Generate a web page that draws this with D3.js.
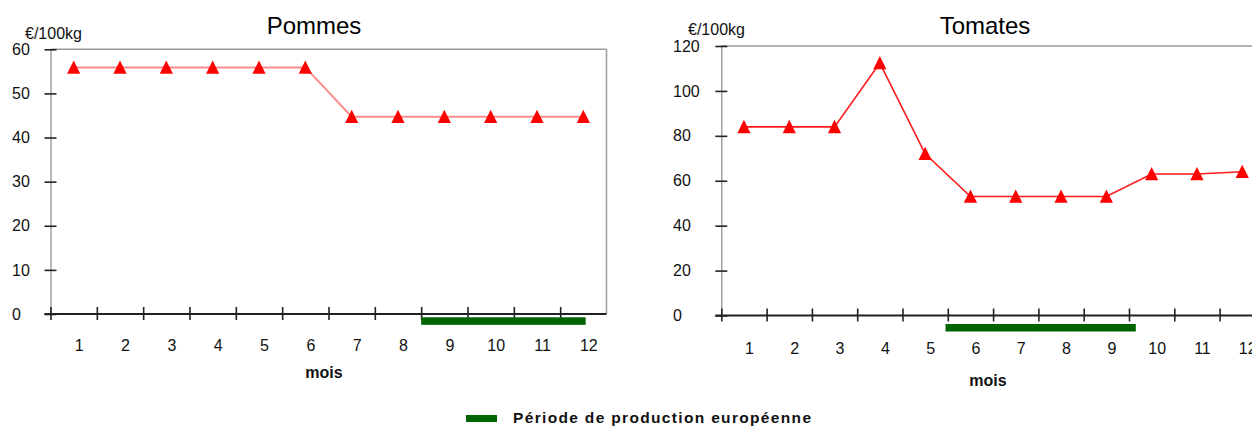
<!DOCTYPE html>
<html>
<head>
<meta charset="utf-8">
<script src="https://cdn.jsdelivr.net/npm/d3@7"></script>
<style>
  html, body { margin: 0; padding: 0; background: #ffffff; }
  svg { display: block; }
</style>
</head>
<body>
<svg id="chart" width="1252" height="427"></svg>
<script>
// Monthly prices (€/100kg) and European production periods
const months = [1, 2, 3, 4, 5, 6, 7, 8, 9, 10, 11, 12];
const pommesPrices = [55.9, 55.9, 55.9, 55.9, 55.9, 55.9, 44.7, 44.7, 44.7, 44.7, 44.7, 44.7];
const tomatesPrices = [84, 84, 84, 112.4, 72, 53, 53, 53, 53, 63, 63, 64];
const pommesTicks = [0, 10, 20, 30, 40, 50, 60];
const tomatesTicks = [0, 20, 40, 60, 80, 100, 120];
const pommesProduction = [8.5, 12.05];
const tomatesProduction = [5.45, 9.65];
const unitLabel = "€/100kg";
const xTitle = "mois";
const legendLabel = "Période de production européenne";

const FONT = "'Liberation Sans', Arial, sans-serif";
const GREEN = "#006400";
const svg = d3.select("#chart");

function drawPanel(p) {
  const x = d3.scaleLinear().domain([0.5, 12.5]).range([p.left, p.right]);
  const y = d3.scaleLinear().domain([0, p.yMax]).range([p.bottom, p.top]);
  const g = svg.append("g");

  // grey frame: top and right edges
  g.append("line")
    .attr("x1", p.left).attr("x2", p.right)
    .attr("y1", y(p.yMax)).attr("y2", y(p.yMax))
    .attr("stroke", "#9a9a9a").attr("stroke-width", 1.5);
  g.append("line")
    .attr("x1", p.right).attr("x2", p.right)
    .attr("y1", y(p.yMax)).attr("y2", y(0))
    .attr("stroke", "#9a9a9a").attr("stroke-width", 1.5);

  // y axis with ticks crossing the axis line
  const gy = g.append("g")
    .attr("transform", `translate(${p.left},0)`)
    .call(d3.axisLeft(y).tickValues(p.ticks).tickSizeInner(6).tickSizeOuter(0).tickFormat(d3.format("d")))
    .attr("font-family", FONT).attr("font-size", 16);
  gy.select(".domain").attr("stroke", "#8a8a8a").attr("stroke-width", 1.2);
  gy.selectAll(".tick line")
    .attr("x1", -6).attr("x2", 6)
    .attr("stroke", "#222").attr("stroke-width", 1.6);
  gy.selectAll(".tick text")
    .attr("x", p.yLabelX - p.left)
    .attr("text-anchor", "start")
    .attr("fill", "#111");

  // x axis: ticks on month boundaries
  const gx = g.append("g")
    .attr("transform", `translate(0,${y(0)})`)
    .call(d3.axisBottom(x).tickValues(d3.range(0.5, 12, 1)).tickSizeInner(6).tickSizeOuter(0).tickFormat(""));
  gx.select(".domain").remove();
  gx.insert("line", ":first-child")
    .attr("x1", p.left - 6).attr("x2", p.axisEnd)
    .attr("y1", 0).attr("y2", 0)
    .attr("stroke", "#222").attr("stroke-width", 2);
  gx.selectAll(".tick line")
    .attr("y1", -7).attr("y2", 6)
    .attr("stroke", "#222").attr("stroke-width", 1.6);

  // month labels
  const gl = g.append("g")
    .attr("transform", `translate(5,${y(0)})`)
    .call(d3.axisBottom(x).tickValues(months).tickSize(0).tickFormat(d3.format("d")))
    .attr("font-family", FONT).attr("font-size", 16);
  gl.select(".domain").remove();
  gl.selectAll(".tick text")
    .attr("y", p.xLabelOffset).attr("dy", "0.35em")
    .attr("fill", "#111");

  // European production period
  g.append("rect")
    .attr("x", x(p.production[0]))
    .attr("width", x(p.production[1]) - x(p.production[0]))
    .attr("y", y(0) + p.prodOffset)
    .attr("height", 7.5)
    .attr("fill", GREEN);

  // price line
  const line = d3.line().x((d, i) => x(months[i])).y(d => y(d));
  g.append("path")
    .datum(p.values)
    .attr("d", line)
    .attr("fill", "none")
    .attr("stroke", p.lineColor)
    .attr("stroke-width", p.lineWidth);

  // triangle markers
  g.selectAll("path.marker")
    .data(p.values)
    .join("path")
    .attr("class", "marker")
    .attr("d", (d, i) => {
      const cx = x(months[i]), cy = y(d);
      return `M${cx},${cy - 7}L${cx + 6.6},${cy + 6.3}L${cx - 6.6},${cy + 6.3}Z`;
    })
    .attr("fill", "#ff0000");

  // titles
  g.append("text")
    .attr("x", p.titleX).attr("y", 33.5)
    .attr("text-anchor", "middle")
    .attr("font-family", FONT).attr("font-size", 24)
    .attr("fill", "#000")
    .text(p.title);
  g.append("text")
    .attr("x", p.unitX).attr("y", p.unitY)
    .attr("font-family", FONT).attr("font-size", 16)
    .attr("fill", "#111")
    .text(unitLabel);
  g.append("text")
    .attr("x", p.moisX).attr("y", p.moisY)
    .attr("text-anchor", "middle")
    .attr("font-family", FONT).attr("font-size", 16).attr("font-weight", "bold")
    .attr("fill", "#111")
    .text(xTitle);
}

drawPanel({
  title: "Pommes", values: pommesPrices, ticks: pommesTicks, yMax: 60,
  production: pommesProduction,
  left: 50.5, right: 606.5, top: 49.3, bottom: 314, axisEnd: 606.5,
  yLabelX: 12, xLabelOffset: 31, prodOffset: 3.3,
  lineColor: "#ff8a8a", lineWidth: 2,
  titleX: 314, unitX: 25, unitY: 39, moisX: 324, moisY: 378
});

drawPanel({
  title: "Tomates", values: tomatesPrices, ticks: tomatesTicks, yMax: 120,
  production: tomatesProduction,
  left: 721.3, right: 1264.9, top: 46, bottom: 315.5, axisEnd: 1264.9,
  yLabelX: 673, xLabelOffset: 32.5, prodOffset: 8.5,
  lineColor: "#ff1a1a", lineWidth: 1.6,
  titleX: 985, unitX: 688, unitY: 35, moisX: 988, moisY: 386
});

// legend
const legend = svg.append("g");
legend.append("rect")
  .attr("x", 466).attr("y", 415).attr("width", 31).attr("height", 7)
  .attr("fill", GREEN);
legend.append("text")
  .attr("x", 513).attr("y", 422.5)
  .attr("font-family", FONT).attr("font-size", 15.5).attr("font-weight", "bold")
  .attr("textLength", 298).attr("lengthAdjust", "spacing")
  .attr("fill", "#111")
  .text(legendLabel);
</script>
</body>
</html>
